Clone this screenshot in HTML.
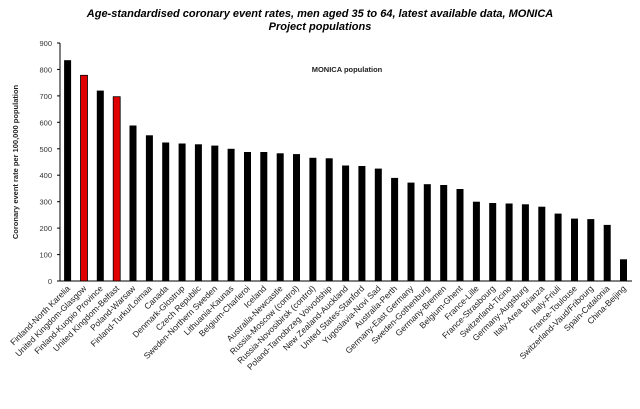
<!DOCTYPE html><html><head><style>body{margin:0;background:#fff}svg{display:block}text{font-family:"Liberation Sans",Arial,sans-serif}</style></head><body>
<svg width="640" height="409" viewBox="0 0 640 409" xmlns="http://www.w3.org/2000/svg">
<text x="320" y="17" text-anchor="middle" font-size="11" font-weight="bold" font-style="italic">Age-standardised coronary event rates, men aged 35 to 64, latest available data, MONICA</text>
<text x="320" y="30" text-anchor="middle" font-size="11" font-weight="bold" font-style="italic">Project populations</text>
<text x="347" y="72" text-anchor="middle" font-size="7.5" font-weight="bold" fill="#222">MONICA population</text>
<text transform="translate(18,162) rotate(-90)" text-anchor="middle" font-size="7.5" font-weight="bold" fill="#222">Coronary event rate per 100,000 population</text>
<g font-size="7.5" fill="#333" text-anchor="end">
<text x="52" y="284">0</text><text x="52" y="257.6">100</text><text x="52" y="231.1">200</text><text x="52" y="204.7">300</text><text x="52" y="178.2">400</text><text x="52" y="151.8">500</text><text x="52" y="125.3">600</text><text x="52" y="98.9">700</text><text x="52" y="72.4">800</text><text x="52" y="46">900</text>
</g>
<g stroke="#000" stroke-width="1">
<line x1="60" y1="43" x2="60" y2="281"/><line x1="60" y1="281" x2="632" y2="281"/>
<line x1="57" y1="281" x2="60" y2="281"/><line x1="57" y1="254.6" x2="60" y2="254.6"/><line x1="57" y1="228.1" x2="60" y2="228.1"/><line x1="57" y1="201.7" x2="60" y2="201.7"/><line x1="57" y1="175.2" x2="60" y2="175.2"/><line x1="57" y1="148.8" x2="60" y2="148.8"/><line x1="57" y1="122.3" x2="60" y2="122.3"/><line x1="57" y1="95.9" x2="60" y2="95.9"/><line x1="57" y1="69.4" x2="60" y2="69.4"/><line x1="57" y1="43" x2="60" y2="43"/>
</g>
<g>
<rect x="64.1" y="60.2" width="7" height="220.8"/>
<rect x="80.5" y="75.3" width="7" height="205.7" fill="#e00000" stroke="#000" stroke-width="0.8"/>
<rect x="96.8" y="90.6" width="7" height="190.4"/>
<rect x="113.2" y="96.7" width="7" height="184.3" fill="#e00000" stroke="#000" stroke-width="0.8"/>
<rect x="129.5" y="125.5" width="7" height="155.5"/>
<rect x="145.9" y="135.3" width="7" height="145.7"/>
<rect x="162.2" y="142.5" width="7" height="138.5"/>
<rect x="178.6" y="143.5" width="7" height="137.5"/>
<rect x="194.9" y="144.3" width="7" height="136.7"/>
<rect x="211.3" y="145.6" width="7" height="135.4"/>
<rect x="227.6" y="148.8" width="7" height="132.2"/>
<rect x="244" y="152" width="7" height="129"/>
<rect x="260.3" y="152" width="7" height="129"/>
<rect x="276.7" y="153.3" width="7" height="127.7"/>
<rect x="293" y="154.1" width="7" height="126.9"/>
<rect x="309.4" y="157.8" width="7" height="123.2"/>
<rect x="325.7" y="158.3" width="7" height="122.7"/>
<rect x="342.1" y="165.5" width="7" height="115.5"/>
<rect x="358.4" y="166" width="7" height="115"/>
<rect x="374.8" y="168.6" width="7" height="112.4"/>
<rect x="391.1" y="177.9" width="7" height="103.1"/>
<rect x="407.5" y="182.6" width="7" height="98.4"/>
<rect x="423.8" y="184.2" width="7" height="96.8"/>
<rect x="440.2" y="185" width="7" height="96"/>
<rect x="456.5" y="189" width="7" height="92"/>
<rect x="472.9" y="201.7" width="7" height="79.3"/>
<rect x="489.2" y="203" width="7" height="78"/>
<rect x="505.6" y="203.5" width="7" height="77.5"/>
<rect x="521.9" y="204.3" width="7" height="76.7"/>
<rect x="538.3" y="206.7" width="7" height="74.3"/>
<rect x="554.6" y="213.6" width="7" height="67.4"/>
<rect x="571" y="218.6" width="7" height="62.4"/>
<rect x="587.3" y="219.1" width="7" height="61.9"/>
<rect x="603.7" y="224.9" width="7" height="56.1"/>
<rect x="620" y="259.3" width="7" height="21.7"/>
</g>
<g font-size="8.5" fill="#222" text-anchor="end">
<text transform="translate(70.6,289) rotate(-45)">Finland-North Karelia</text>
<text transform="translate(87,289) rotate(-45)">United Kingdom-Glasgow</text>
<text transform="translate(103.3,289) rotate(-45)">Finland-Kuopio Province</text>
<text transform="translate(119.7,289) rotate(-45)">United Kingdom-Belfast</text>
<text transform="translate(136,289) rotate(-45)">Poland-Warsaw</text>
<text transform="translate(152.4,289) rotate(-45)">Finland-Turku/Loimaa</text>
<text transform="translate(168.7,289) rotate(-45)">Canada</text>
<text transform="translate(185.1,289) rotate(-45)">Denmark-Glostrup</text>
<text transform="translate(201.4,289) rotate(-45)">Czech Republic</text>
<text transform="translate(217.8,289) rotate(-45)">Sweden-Northern Sweden</text>
<text transform="translate(234.1,289) rotate(-45)">Lithuania-Kaunas</text>
<text transform="translate(250.5,289) rotate(-45)">Belgium-Charleroi</text>
<text transform="translate(266.8,289) rotate(-45)">Iceland</text>
<text transform="translate(283.2,289) rotate(-45)">Australia-Newcastle</text>
<text transform="translate(299.5,289) rotate(-45)">Russia-Moscow (control)</text>
<text transform="translate(315.9,289) rotate(-45)">Russia-Novosibirsk (control)</text>
<text transform="translate(332.2,289) rotate(-45)">Poland-Tarnobrzeg Voivodship</text>
<text transform="translate(348.6,289) rotate(-45)">New Zealand-Auckland</text>
<text transform="translate(364.9,289) rotate(-45)">United States-Stanford</text>
<text transform="translate(381.3,289) rotate(-45)">Yugoslavia-Novi Sad</text>
<text transform="translate(397.6,289) rotate(-45)">Australia-Perth</text>
<text transform="translate(414,289) rotate(-45)">Germany-East Germany</text>
<text transform="translate(430.3,289) rotate(-45)">Sweden-Gothenburg</text>
<text transform="translate(446.7,289) rotate(-45)">Germany-Bremen</text>
<text transform="translate(463,289) rotate(-45)">Belgium-Ghent</text>
<text transform="translate(479.4,289) rotate(-45)">France-Lille</text>
<text transform="translate(495.7,289) rotate(-45)">France-Strasbourg</text>
<text transform="translate(512.1,289) rotate(-45)">Switzerland-Ticino</text>
<text transform="translate(528.4,289) rotate(-45)">Germany-Augsburg</text>
<text transform="translate(544.8,289) rotate(-45)">Italy-Area Brianza</text>
<text transform="translate(561.1,289) rotate(-45)">Italy-Friuli</text>
<text transform="translate(577.5,289) rotate(-45)">France-Toulouse</text>
<text transform="translate(593.8,289) rotate(-45)">Switzerland-Vaud/Fribourg</text>
<text transform="translate(610.2,289) rotate(-45)">Spain-Catalonia</text>
<text transform="translate(626.5,289) rotate(-45)">China-Beijing</text>
</g>
</svg></body></html>
